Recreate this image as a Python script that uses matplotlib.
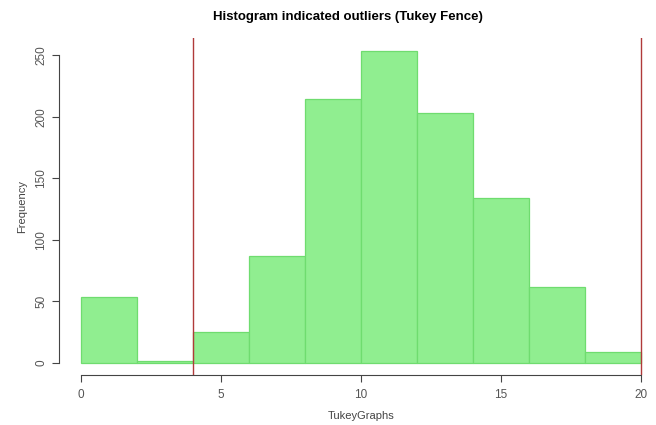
import numpy as np
import matplotlib.pyplot as plt

plt.rcParams['font.family'] = ['Liberation Sans', 'DejaVu Sans']

# Histogram bins (width 2) and counts
bin_edges = [0, 2, 4, 6, 8, 10, 12, 14, 16, 18, 20]
counts = [54, 2, 25, 87, 215, 254, 203, 134, 62, 9]

# Tukey fences
fences = [4, 20]

x_ticks = [0, 5, 10, 15, 20]
y_ticks = [0, 50, 100, 150, 200, 250]

fig = plt.figure(figsize=(6.56, 4.25), dpi=100)
ax = fig.add_axes([0.0893, 0.1165, 0.922, 0.794])

lefts = np.array(bin_edges[:-1])
widths = np.diff(bin_edges)
ax.bar(lefts, counts, width=widths, align='edge',
       color='#90ee90', edgecolor='#6fdc6f', linewidth=0.9)

for f in fences:
    ax.axvline(f, color='#b03a3a', linewidth=1.0)

ax.set_xlim(-0.8, 20.8)
ax.set_ylim(-10.16, 264.16)

for s in ['top', 'right']:
    ax.spines[s].set_visible(False)
ax.spines['left'].set_bounds(0, 250)
ax.spines['bottom'].set_bounds(0, 20)
ax.spines['left'].set_color('#444444')
ax.spines['bottom'].set_color('#444444')

ax.set_xticks(x_ticks)
ax.set_yticks(y_ticks)
ax.tick_params(axis='both', direction='out', length=5, colors='#444444',
               labelsize=8.5, labelcolor='#555555')
ax.tick_params(axis='x', pad=5)
ax.tick_params(axis='y', pad=3)
plt.setp(ax.get_yticklabels(), rotation=90, va='center')

ax.set_xlabel("TukeyGraphs", fontsize=8, color='#444444', labelpad=7)
ax.set_ylabel("Frequency", fontsize=8, color='#444444', labelpad=6)
fig.suptitle("Histogram indicated outliers (Tukey Fence)", fontsize=9.5,
             fontweight='bold', x=0.53, y=0.975)

plt.savefig('out.png', dpi=100)
